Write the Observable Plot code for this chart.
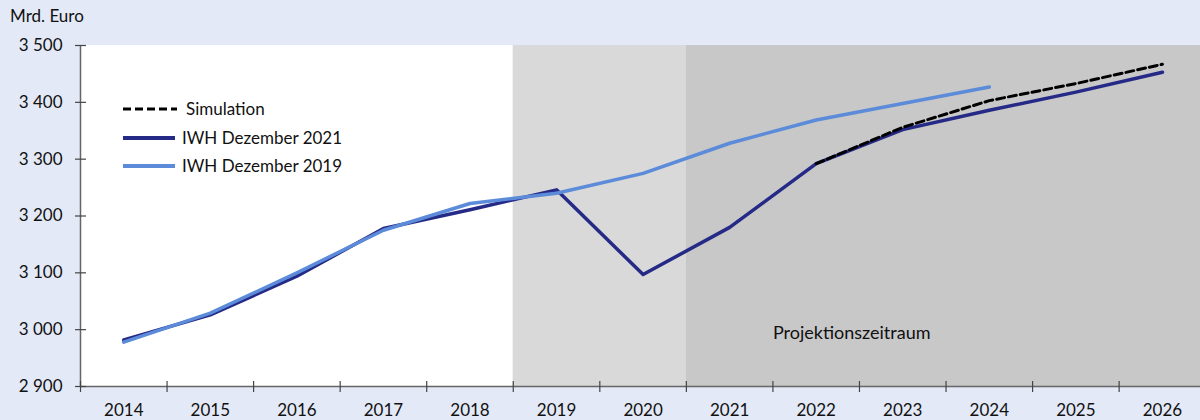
<!DOCTYPE html>
<html>
<head>
<meta charset="utf-8">
<script src="https://cdn.jsdelivr.net/npm/d3@7"></script>
<script src="https://cdn.jsdelivr.net/npm/@observablehq/plot@0.6"></script>
<style>
  body { margin: 0; background: #e3e9f7; }
  #wrap { position: relative; width: 1200px; height: 420px; background: #e3e9f7; font-family: Lato, "Open Sans", sans-serif; color: #111; overflow: hidden; }
  #unit { position: absolute; left: 10px; top: 5px; font-size: 17px; }
  #legend { position: absolute; left: 123px; top: 95px; font-size: 17px; line-height: 28.5px; }
  #legend div { display: flex; align-items: center; }
  #legend svg { margin-right: 5px; }
</style>
</head>
<body>
<div id="wrap">
  <div id="chart"></div>
  <div id="unit">Mrd. Euro</div>
  <div id="legend"></div>
</div>
<script>
const years = [2014, 2015, 2016, 2017, 2018, 2019, 2020, 2021, 2022, 2023, 2024, 2025, 2026];
const iwh2021 = [2982, 3026, 3094, 3178, 3211, 3246, 3097, 3180, 3292, 3352, 3386, 3418, 3453];
const years2019 = [2014, 2015, 2016, 2017, 2018, 2019, 2020, 2021, 2022, 2023, 2024];
const iwh2019 = [2978, 3029, 3100, 3175, 3222, 3240, 3275, 3328, 3369, 3398, 3427];
const simYears = [2022, 2023, 2024, 2025, 2026];
const simulation = [3292, 3356, 3403, 3433, 3467];
const yTicks = [2900, 3000, 3100, 3200, 3300, 3400, 3500];
const periods = [
  {from: 2013.5, to: 2018.5, fill: "#ffffff"},
  {from: 2018.5, to: 2020.5, fill: "#d9d9d9"},
  {from: 2020.5, to: 2026.5, fill: "#c8c8c8"}
];
const annotation = [{year: 2021.5, value: 2993, label: "Projektionszeitraum"}];
const seriesNames = ["Simulation", "IWH Dezember 2021", "IWH Dezember 2019"];

const COL21 = "#252a87", COL19 = "#5b8bd9";
const d21 = years.map((y, i) => ({year: y, value: iwh2021[i]}));
const d19 = years2019.map((y, i) => ({year: y, value: iwh2019[i]}));
const dsim = simYears.map((y, i) => ({year: y, value: simulation[i]}));
const boundaries = d3.range(years.length).map(i => years[0] - 0.5 + i);
const fmt = d => d3.format(",")(d).replace(",", " ");
const blank = () => "";

const chart = Plot.plot({
  width: 1200, height: 420,
  marginLeft: 80, marginRight: 0, marginTop: 45, marginBottom: 34,
  style: {background: "transparent", fontFamily: "Lato, 'Open Sans', sans-serif", fontSize: "16px", color: "#111", overflow: "visible"},
  x: {domain: [2013.5, 2026.44], label: null},
  y: {domain: [2900, 3500], label: null},
  marks: [
    Plot.rect(periods, {x1: "from", x2: "to", fill: "fill"}),
    Plot.text(annotation, {x: "year", y: "value", text: "label", textAnchor: "start", fontSize: 18, fill: "#111"}),
    Plot.line(d21, {x: "year", y: "value", stroke: COL21, strokeWidth: 3.5}),
    Plot.line(dsim, {x: "year", y: "value", stroke: "#000", strokeWidth: 3, strokeDasharray: "8 4"}),
    Plot.line(d19, {x: "year", y: "value", stroke: COL19, strokeWidth: 3.5}),
    Plot.ruleY([2900], {x1: 2013.5, x2: 2026.5, stroke: "#666", strokeWidth: 1.5}),
    Plot.ruleX([2013.5], {stroke: "#666", strokeWidth: 1.5}),
    Plot.axisY({ticks: yTicks, tickSize: 11, dx: 6, tickFormat: blank, label: null, stroke: "#444", strokeWidth: 1.2}),
    Plot.axisY({ticks: yTicks, tickSize: 0, tickPadding: 18, tickFormat: fmt, label: null, fontSize: 17}),
    Plot.axisX({ticks: boundaries, tickSize: 11, dy: -5, tickFormat: blank, label: null, stroke: "#444", strokeWidth: 1.2}),
    Plot.axisX({ticks: years, tickSize: 0, tickPadding: 17, tickFormat: d => String(d), label: null, fontSize: 17})
  ]
});
document.getElementById("chart").appendChild(chart);

const legendStyles = [
  {stroke: "#000", width: 3, dash: "8 4"},
  {stroke: COL21, width: 4, dash: null},
  {stroke: COL19, width: 4, dash: null}
];
const lg = document.getElementById("legend");
seriesNames.forEach((name, i) => {
  const s = legendStyles[i];
  const row = document.createElement("div");
  row.innerHTML = `<svg width="54" height="10"><line x1="0" x2="${i === 0 ? 58 : 52}" y1="5" y2="5" stroke="${s.stroke}" stroke-width="${s.width}" ${s.dash ? `stroke-dasharray="${s.dash}"` : ""}/></svg><span style="${i === 0 ? 'margin-left:4px' : ''}">${name}</span>`;
  lg.appendChild(row);
});
</script>
</body>
</html>
